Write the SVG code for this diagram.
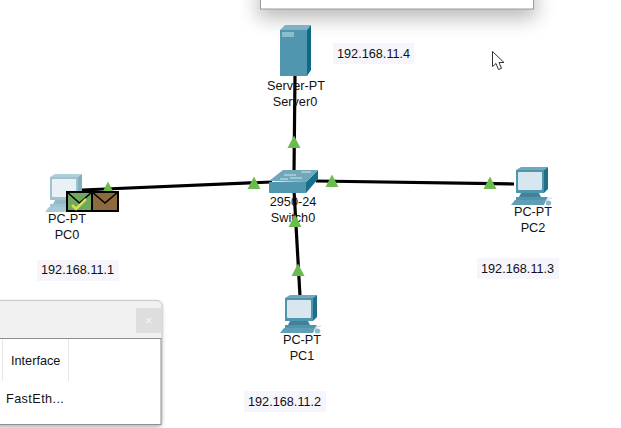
<svg xmlns="http://www.w3.org/2000/svg" width="621" height="428" viewBox="0 0 621 428">
<style>
text{font-family:"Liberation Sans",Arial,sans-serif;font-size:12.700px;fill:#111}
.m{text-anchor:middle}
.lk{stroke:#000;stroke-width:3.200;fill:none;stroke-linecap:butt}
.tri{fill:#6cbb4e}
.ipbg{fill:#f7f5fc}
</style>
<defs>
<filter id="sh" x="-20%" y="-80%" width="140%" height="300%"><feGaussianBlur stdDeviation="10"/></filter>
<filter id="sh2" x="-20%" y="-20%" width="140%" height="140%"><feGaussianBlur stdDeviation="2"/></filter>
<polygon id="t" class="tri" points="0,-6.500 6.500,6 -6.500,6"/>
<g id="pc">
<polygon points="0,2 5,-1 32,-1 28,2" fill="#6fa9bc"/>
<polygon points="28,2 32,-1 32,21 28,25" fill="#1f6f88"/>
<rect x="0" y="2" width="28" height="23" fill="#4f95ad"/>
<rect x="2" y="4" width="24" height="18" rx="1" fill="#d8e6f0"/>
<polygon points="5,25 23,25 25,29 3,29" fill="#3f8299"/>
<polygon points="0,29 32,29 30,32 0,32" fill="#4f95ad"/>
<polygon points="-1,32 30,32 28,37 -5,37" fill="#5f9fb5"/>
<path d="M30 33q2-3 6-3" fill="none" stroke="#c8d2d8" stroke-width="1"/>
<ellipse cx="32.500" cy="35" rx="2.800" ry="2.500" fill="#8fb8c8"/>
</g>
</defs>
<rect width="621" height="428" fill="#fff"/>

<g id="top-window">
<rect x="258" y="-10" width="278" height="28" fill="#000" opacity=".28" filter="url(#sh)"/>
<rect x="260.500" y="-5" width="273" height="14" fill="#fff" stroke="#9a9a9a"/>
</g>

<g id="connectors">
<line class="lk" x1="295" y1="76" x2="294" y2="172"/>
<line class="lk" x1="82" y1="190" x2="272" y2="182"/>
<line class="lk" x1="316" y1="181" x2="514" y2="184"/>
<line class="lk" x1="294" y1="190" x2="300" y2="296"/>
</g>

<g id="Server0">
<polygon points="280,30 285,25 311,25 307,30" fill="#7fb2c4"/>
<polygon points="307,30 311,25 311,70 307,76" fill="#0f6a85"/>
<rect x="280" y="30" width="27" height="46" fill="#4f96ae"/>
<rect x="282" y="32" width="12" height="5" fill="#8fbccb"/>
<text class="m" x="296" y="90">Server-PT</text>
<text class="m" x="295" y="106">Server0</text>
</g>

<g id="Switch0">
<polygon points="269,182 306,182 306,193 269,193" fill="#4f96ae"/>
<polygon points="306,182 318,170 318,179 306,193" fill="#16708a"/>
<polygon points="269,181 283,170 318,170 306,182" fill="#6fa8ba"/>
<path d="M284 175h12M301 172h10M280 179h8M290 178h12" stroke="#d5e4ea" stroke-width="1" fill="none"/>
<text class="m" x="293" y="206">2950-24</text>
<text class="m" x="293" y="222">Switch0</text>
</g>

<g id="PC0">
<use href="#pc" x="50" y="175" opacity=".55"/>
<text class="m" x="67" y="223">PC-PT</text>
<text class="m" x="67" y="239">PC0</text>
</g>

<g id="PC1">
<use href="#pc" x="285" y="296"/>
<text class="m" x="302" y="344">PC-PT</text>
<text class="m" x="302" y="360">PC1</text>
</g>

<g id="PC2">
<use href="#pc" x="516" y="168"/>
<text class="m" x="533" y="216">PC-PT</text>
<text class="m" x="533" y="232">PC2</text>
</g>

<g id="link-lights">
<use href="#t" x="294" y="142"/>
<use href="#t" x="254" y="183"/>
<use href="#t" x="332" y="181"/>
<use href="#t" x="490" y="183"/>
<use href="#t" x="295" y="221"/>
<use href="#t" x="298" y="270"/>
<use href="#t" x="108" y="188"/>
</g>

<g id="envelopes">
<rect x="67" y="192" width="25" height="19" fill="#6fa85e" stroke="#000" stroke-width="2"/>
<path d="M67 192l12.500 11 12.500-11" fill="none" stroke="#000" stroke-width="1.500"/>
<path d="M72 205l4 4 10-10" fill="none" stroke="#d9e04a" stroke-width="2.500"/>
<rect x="92" y="192" width="26" height="19" fill="#8c6a3e" stroke="#000" stroke-width="2"/>
<path d="M92 192l13 11 13-11" fill="none" stroke="#000" stroke-width="1.500"/>
</g>

<g id="ip-labels">
<rect class="ipbg" x="333" y="43" width="81" height="21"/>
<text x="337" y="58">192.168.11.4</text>
<rect class="ipbg" x="37" y="260" width="82" height="21"/>
<text x="41" y="274">192.168.11.1</text>
<rect class="ipbg" x="477" y="258" width="82" height="21"/>
<text x="481" y="273">192.168.11.3</text>
<rect class="ipbg" x="244" y="391" width="82" height="21"/>
<text x="248" y="406">192.168.11.2</text>
</g>

<g id="side-window">
<rect x="-8" y="302" width="170" height="126" rx="5" fill="#000" opacity=".25" filter="url(#sh2)"/>
<rect x="-8" y="300.500" width="170" height="125" rx="5" fill="#f1f1f1" stroke="#c9c9c9"/>
<rect x="136" y="308" width="25" height="25" fill="#dedede"/>
<text class="m" x="148.500" y="325" style="fill:#f5f5f5;font-size:13px">×</text>
<rect x="-2" y="338.500" width="163" height="86" fill="#fff" stroke="#8f8f8f"/>
<path d="M2.500 339v42M68.500 339v42" stroke="#e6e6e6" fill="none"/>
<text x="11" y="365">Interface</text>
<text x="6" y="403" style="letter-spacing:.4px">FastEth...</text>
</g>

<path id="cursor" d="M492.500 51.500v15l3.500-3 2.500 6 3-1.200-2.500-5.800h5z" fill="#fff" stroke="#333" stroke-width="1"/>
</svg>
